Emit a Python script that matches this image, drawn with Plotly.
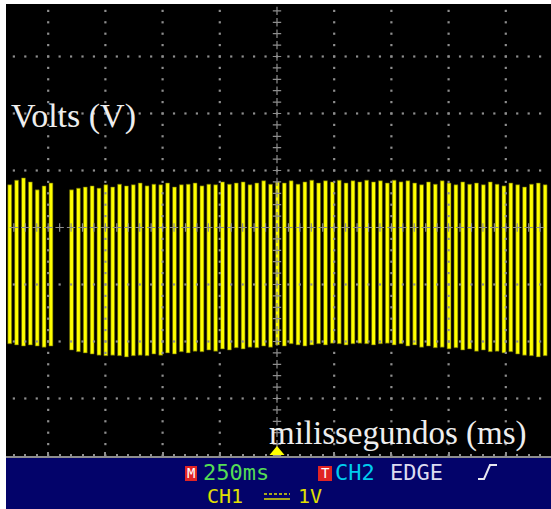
import numpy as np
import plotly.graph_objects as go

# ---------------- data (read from the scope screen) ----------------
# pulse times in ms (0 = trigger / screen centre), tops and bottoms in volts
left_times = [-1168, -1138, -1108, -1078, -1048, -1018, -988]
left_tops = [0.75, 0.83, 0.87, 0.80, 0.66, 0.73, 0.78]
left_bottoms = [-2.04, -2.06, -2.08, -2.06, -2.08, -2.10, -2.08]

right_times = [-898, -868, -838, -808, -778, -748, -718, -688, -658, -628,
               -598, -568, -538, -508, -478, -448, -418, -388, -358, -328,
               -298, -268, -238, -208, -178, -148, -118, -88, -58, -28,
               2, 32, 62, 92, 122, 152, 182, 212, 242, 272,
               302, 332, 362, 392, 422, 452, 482, 512, 542, 572,
               602, 632, 662, 692, 722, 752, 782, 812, 842, 872,
               902, 932, 962, 992, 1022, 1052, 1082, 1112, 1142, 1172]
right_tops = [0.66, 0.69, 0.71, 0.73, 0.69, 0.75, 0.71, 0.76, 0.73, 0.75,
              0.78, 0.73, 0.76, 0.75, 0.78, 0.71, 0.75, 0.76, 0.78, 0.73,
              0.76, 0.75, 0.80, 0.76, 0.78, 0.80, 0.75, 0.78, 0.82, 0.76,
              0.80, 0.78, 0.82, 0.76, 0.80, 0.83, 0.78, 0.82, 0.80, 0.83,
              0.78, 0.82, 0.80, 0.83, 0.80, 0.82, 0.78, 0.83, 0.80, 0.82,
              0.78, 0.75, 0.80, 0.76, 0.82, 0.78, 0.75, 0.80, 0.76, 0.78,
              0.75, 0.80, 0.76, 0.73, 0.78, 0.75, 0.71, 0.76, 0.78, 0.75]
right_bottoms = [-2.15, -2.18, -2.20, -2.22, -2.24, -2.25, -2.24, -2.25, -2.27, -2.25,
                 -2.24, -2.25, -2.22, -2.24, -2.20, -2.22, -2.18, -2.20, -2.17, -2.18,
                 -2.15, -2.17, -2.13, -2.15, -2.11, -2.13, -2.10, -2.11, -2.08, -2.10,
                 -2.06, -2.08, -2.04, -2.06, -2.08, -2.06, -2.04, -2.06, -2.03, -2.04,
                 -2.06, -2.04, -2.03, -2.04, -2.06, -2.04, -2.03, -2.06, -2.04, -2.08,
                 -2.06, -2.10, -2.08, -2.11, -2.10, -2.13, -2.11, -2.15, -2.13, -2.17,
                 -2.15, -2.18, -2.17, -2.20, -2.18, -2.22, -2.24, -2.25, -2.27, -2.25]

time_per_div = 250   # ms  ("M 250ms")
volts_per_div = 1    # V   ("CH1 1V")

times = left_times + right_times
tops = left_tops + right_tops
bottoms = left_bottoms + right_bottoms

# ---------------- geometry ----------------
W, H = 551, 509
ML, MR, MT, MB = 6, 0, 4, 53
PW, PH = W - ML - MR, H - MT - MB


def px(x):
    return (x - ML) / PW


def py(y):
    return (H - MB - y) / PH


X_RANGE = [-1184.4, 1197.6]
Y_RANGE = [-4.009, 3.921]

GRAY = "#8e8e8e"

fig = go.Figure()

# signal pulses
fig.add_trace(go.Bar(
    x=times, base=bottoms, y=[t - b for t, b in zip(tops, bottoms)],
    width=17, marker=dict(color="#ffff00", line=dict(width=0.6, color="#5a5a00")),
    hoverinfo="skip", showlegend=False))

# graticule dots
gx, gy = [], []
for k in range(-4, 5):
    if k == 0:
        continue
    for v in np.arange(-4.0, 3.95, 0.2 * volts_per_div):
        gx.append(k * time_per_div)
        gy.append(v)
for k in range(-3, 4):
    if k == 0:
        continue
    for t in np.arange(-1150, 1151, 0.2 * time_per_div):
        gx.append(t)
        gy.append(k * volts_per_div)
fig.add_trace(go.Scatter(x=gx, y=gy, mode="markers",
                         marker=dict(symbol="square", size=2.2, color=GRAY),
                         hoverinfo="skip", showlegend=False))

# centre cross-hair with tick crosses
cx, cy = [], []
for v in np.arange(-4.0, 3.95, 0.2 * volts_per_div):
    cx.append(0)
    cy.append(v)
for t in np.arange(-1150, 1151, 0.2 * time_per_div):
    cx.append(t)
    cy.append(0)
fig.add_trace(go.Scatter(x=cx, y=cy, mode="markers",
                         marker=dict(symbol="cross-thin", size=6,
                                     line=dict(color=GRAY, width=1.2)),
                         hoverinfo="skip", showlegend=False))

shapes = []
# blue status bar
shapes.append(dict(type="rect", xref="paper", yref="paper",
                   x0=px(6), x1=px(551), y0=py(457), y1=py(509),
                   fillcolor="#03036a", line=dict(width=0), layer="below"))
# trigger position marker
shapes.append(dict(type="path", xref="paper", yref="paper",
                   path=f"M{px(269.5)},{py(455)} L{px(277)},{py(446)} L{px(284.5)},{py(455)} Z",
                   fillcolor="#ffff00", line=dict(width=0)))
# red boxes M and T
for x0, x1 in [(185, 197), (318, 332)]:
    shapes.append(dict(type="rect", xref="paper", yref="paper",
                       x0=px(x0), x1=px(x1), y0=py(481), y1=py(466),
                       fillcolor="#e02424", line=dict(width=0)))
# edge slope symbol
shapes.append(dict(type="path", xref="paper", yref="paper",
                   path=(f"M{px(478)},{py(479)} L{px(484)},{py(479)} "
                         f"L{px(490)},{py(465)} L{px(497)},{py(465)}"),
                   line=dict(color="#e8e8f0", width=2)))
# DC coupling symbol
shapes.append(dict(type="line", xref="paper", yref="paper",
                   x0=px(264), x1=px(290), y0=py(494), y1=py(494),
                   line=dict(color="#e0e000", width=1.5, dash="3px,2px")))
shapes.append(dict(type="line", xref="paper", yref="paper",
                   x0=px(264), x1=px(290), y0=py(499), y1=py(499),
                   line=dict(color="#e0e000", width=1.5)))

MONO = "DejaVu Sans Mono"
annotations = [
    dict(text="Volts (V)", x=px(10), y=py(116), xanchor="left", yanchor="middle",
         font=dict(family="Liberation Serif", size=34, color="#eeeeee")),
    dict(text="milissegundos (ms)", x=px(268), y=py(433), xanchor="left", yanchor="middle",
         font=dict(family="Liberation Serif", size=33, color="#eeeeee")),
    dict(text="M", x=px(191), y=py(473.5), xanchor="center", yanchor="middle",
         font=dict(family=MONO, size=14, color="white")),
    dict(text="250ms", x=px(202), y=py(472.5), xanchor="left", yanchor="middle",
         font=dict(family=MONO, size=22, color="#55dd55")),
    dict(text="T", x=px(325), y=py(473.5), xanchor="center", yanchor="middle",
         font=dict(family=MONO, size=14, color="white")),
    dict(text="CH2", x=px(334), y=py(472.5), xanchor="left", yanchor="middle",
         font=dict(family=MONO, size=22, color="#00ccee")),
    dict(text="EDGE", x=px(389), y=py(472.5), xanchor="left", yanchor="middle",
         font=dict(family=MONO, size=22, color="#dcdcf0")),
    dict(text="CH1", x=px(206), y=py(496), xanchor="left", yanchor="middle",
         font=dict(family=MONO, size=20, color="#e0e000")),
    dict(text="1V", x=px(297), y=py(496), xanchor="left", yanchor="middle",
         font=dict(family=MONO, size=20, color="#e0e000")),
]
for a in annotations:
    a.update(xref="paper", yref="paper", showarrow=False, borderpad=0)

fig.update_layout(
    width=W, height=H,
    margin=dict(l=ML, r=MR, t=MT, b=MB, pad=0),
    paper_bgcolor="white", plot_bgcolor="black",
    shapes=shapes, annotations=annotations,
    showlegend=False,
    xaxis=dict(range=X_RANGE, showgrid=False, zeroline=False,
               showline=True, linecolor=GRAY, linewidth=2,
               ticks="inside", ticklen=4, tickwidth=1.5, tickcolor=GRAY,
               tick0=0, dtick=time_per_div, showticklabels=False,
               minor=dict(ticks="inside", ticklen=2, tickwidth=1.5,
                          tickcolor=GRAY, dtick=0.2 * time_per_div),
               fixedrange=True),
    yaxis=dict(range=Y_RANGE, showgrid=False, zeroline=False,
               showline=False, showticklabels=False, ticks="",
               fixedrange=True),
)

fig.write_html("out.html", config={"displayModeBar": False},
               post_script="document.body.style.margin='0px';"
                           "document.body.style.overflow='hidden';")
